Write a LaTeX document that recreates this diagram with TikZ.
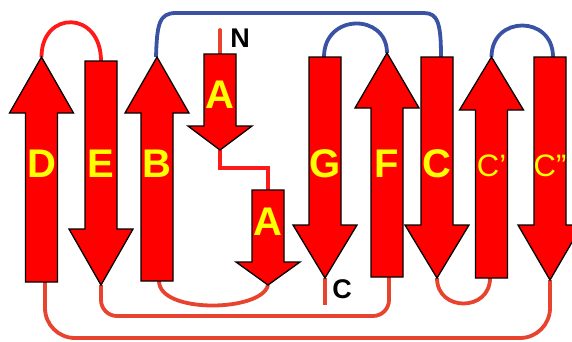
\documentclass[tikz,border=0pt]{standalone}
\usepackage{fontspec}
\setmainfont{Liberation Sans}
\definecolor{strandred}{HTML}{FF0000}
\definecolor{loopred}{HTML}{E8432E}
\definecolor{turnred}{HTML}{FF1A1A}
\definecolor{loopblue}{HTML}{3A52A3}
\definecolor{labelyellow}{HTML}{FFFF00}
% beta strand arrow: centre x, tail y, head-base y, tip y
\newcommand{\betastrand}[4]{%
  \path[strand] ({#1-16},#2) -- ({#1-16},#3) -- ({#1-32},#3) -- (#1,#4)
    -- ({#1+32},#3) -- ({#1+16},#3) -- ({#1+16},#2) -- cycle;}
\begin{document}
\begin{tikzpicture}[x=1pt,y=-1pt,
  strand/.style={fill=strandred, draw=black, line width=1.3pt, line join=miter},
  bottomloop/.style={draw=loopred, line width=3.8pt},
  turnloop/.style={draw=turnred, line width=3.8pt},
  toploop/.style={draw=loopblue, line width=3.8pt},
  strandlabel/.style={text=labelyellow, font=\bfseries\fontsize{40}{40}\selectfont, anchor=base, inner sep=0pt},
  primelabel/.style={text=labelyellow, font=\fontsize{31}{31}\selectfont, anchor=base, inner sep=0pt},
  endlabel/.style={text=black, font=\bfseries\fontsize{27}{27}\selectfont, anchor=base, inner sep=0pt}]
\useasboundingbox (0,0) rectangle (572,341);

% strand end points (tail / tip)
\coordinate (Dtail) at (45,282);   \coordinate (Dtip) at (41.5,57);
\coordinate (Etail) at (101,61);   \coordinate (Etip) at (101,285);
\coordinate (Btail) at (159,281);  \coordinate (Btip) at (156,57);
\coordinate (A1tail) at (220,54);  \coordinate (A1tip) at (220,150);
\coordinate (A2tail) at (268,190); \coordinate (A2tip) at (268,285);
\coordinate (Gtail) at (324,57);   \coordinate (Gtip) at (325,278);
\coordinate (Ftail) at (389,277);  \coordinate (Ftip) at (387,53);
\coordinate (Ctail) at (441,57);   \coordinate (Ctip) at (437,278);
\coordinate (Cptail) at (490,278); \coordinate (Cptip) at (491.5,57);
\coordinate (Cpptail) at (553,57); \coordinate (Cpptip) at (550,280);
\coordinate (Nend) at (220,30);
\coordinate (Cend) at (325,305);

% loops on the lower side
\draw[bottomloop, rounded corners=30pt] (Dtail) -- (45,338) -- (550,338) -- (Cpptip);
\draw[bottomloop, rounded corners=16pt] (Etip) -- (101,316) -- (389,316) -- (Ftail);
\draw[bottomloop] (Btail) .. controls (159,314) and (262,312) .. (A2tip);
\draw[bottomloop] (Ctip) .. controls (437,312) and (490,312) .. (Cptail);
\draw[bottomloop] (Gtip) -- (Cend);
\draw[bottomloop, line cap=round] (Nend) -- (A1tail);

% loops on the upper side
\draw[turnloop] (Dtip) .. controls (41.5,10) and (101,10) .. (Etail);
\draw[turnloop] (A1tip) -- (220,168) -- (268,168) -- (A2tail);
\draw[toploop] (Btip) .. controls (157,24) and (159,13) .. (176,13) -- (424,13)
  .. controls (438,13) and (441,24) .. (Ctail);
\draw[toploop] (Gtail) .. controls (324,13) and (387,13) .. (Ftip);
\draw[toploop] (Cptip) .. controls (491.5,15) and (553,15) .. (Cpptail);

% strands
\betastrand{41.5}{282}{113}{57}
\betastrand{101}{61}{229}{285}
\betastrand{157}{281}{113}{57}
\betastrand{220}{54}{126}{150}
\betastrand{268}{190}{262}{285}
\betastrand{325}{57}{225}{278}
\betastrand{387}{277}{108}{53}
\betastrand{437}{57}{225}{278}
\betastrand{491.5}{278}{110}{57}
\betastrand{550}{57}{225}{280}

% strand names
\node[strandlabel] (labD) at (41.5,177) {D};
\node[strandlabel] (labE) at (101,177) {E};
\node[strandlabel] (labB) at (157,177) {B};
\node[strandlabel] (labA1) at (220,108) {A};
\node[strandlabel] (labA2) at (268,235) {A};
\node[strandlabel] (labG) at (325,177) {G};
\node[strandlabel] (labF) at (387,177) {F};
\node[strandlabel] (labC) at (437,177) {C};
\node[primelabel] (labCp) at (491.5,176) {C’};
\node[primelabel] (labCpp) at (550,176) {C”};
\node[endlabel] (labN) at (240,47) {N};
\node[endlabel] (labCterm) at (342,298) {C};
\end{tikzpicture}
\end{document}
